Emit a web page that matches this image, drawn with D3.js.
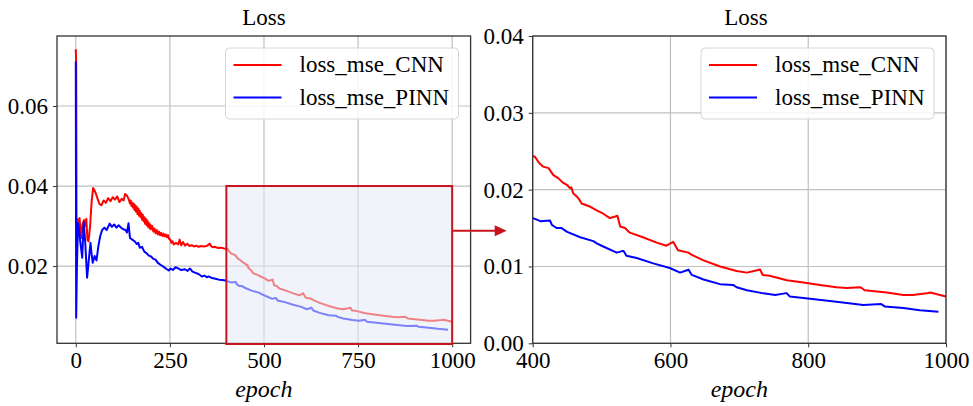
<!DOCTYPE html>
<html>
<head>
<meta charset="utf-8">
<script src="https://cdn.jsdelivr.net/npm/d3@7/dist/d3.min.js"></script>
<style>
	body{margin:0;background:#fff;}
	text{font-family:"Liberation Serif","Times New Roman",serif;fill:#000;}
</style>
</head>
<body>
<div id="chart"></div>
<script>

// values
var epochCNN = [0,1,2,4,7,10,14,18,22,25,28,31,34,38,42,46,49,53,58,63,68,74,80,86,92,98,104,110,116,122,127,131,136,
	141,144,146,148,150,152,154,156,158,160,162,164,166,168,170,172,174,176,178,180,182,184,186,188,190,192,194,196,198,200,203,206,209,212,215,218,221,224,227,230,233,236,239,242,245,248,251,254,257,260,
	266,272,276,280,285,290,296,302,308,314,320,326,332,340,348,356,360,364,370,378,386,394,400,
	403,410,415,423,430,437,444,450,454,456,459,464,467,471,483,495,502,512,520,523,527,534,541,560,580,594,600,604,611,626,631,648,672,696,711,726,730,734,744,769,793,817,841,856,876,882,914,938,952,972,977,1000];
var lossCNN = [0.0742,0.0705,0.0290,0.0318,0.0300,0.0320,0.0270,0.0305,0.0315,0.0300,0.0318,0.0265,0.0262,0.0300,0.0360,0.0395,0.0390,0.0382,0.0368,0.0355,0.0352,0.0364,0.0358,0.0370,0.0362,0.0372,0.0366,0.0374,0.0360,0.0368,0.0364,0.0380,0.0376,
	0.0366,0.0356,0.0364,0.0350,0.0358,0.0346,0.0356,0.0340,0.0352,0.0336,0.0348,0.0330,0.0344,0.0326,0.0338,0.0322,0.0332,0.0316,0.0328,0.0312,0.0322,0.0306,0.0318,0.0302,0.0314,0.0298,0.0308,0.0294,0.0304,0.0292,0.0300,0.0286,0.0294,0.0282,0.0290,0.0279,0.0286,0.0277,0.0283,0.0275,0.0281,0.0274,0.0279,0.0272,0.0277,0.0268,0.0266,0.0258,0.0262,0.0254,
	0.0258,0.0254,0.0266,0.0252,0.0260,0.0251,0.0256,0.0250,0.0252,0.0249,0.0251,0.0248,0.0250,0.0249,0.0250,0.0256,0.0249,0.0247,0.0248,0.0245,0.0246,0.0244,0.0243,
	0.0243,0.0234,0.0230,0.0228,0.0219,0.0215,0.0209,0.0206,0.0202,0.0203,0.0195,0.0191,0.0188,0.0182,0.0178,0.0172,0.0169,0.0163,0.0165,0.0166,0.0152,0.0150,0.0144,0.0138,0.0131,0.0127,0.0130,0.0132,0.0121,0.0118,0.0115,0.0108,0.0100,0.0094,0.0092,0.0095,0.0096,0.0089,0.0088,0.0082,0.0079,0.0076,0.0073,0.0072,0.0073,0.0069,0.0066,0.0063,0.0063,0.0065,0.0066,0.0061];

var epochPINN = [0,1,3,6,9,12,17,21,25,30,34,39,42,45,50,55,60,65,70,76,82,90,96,102,108,114,120,126,132,136,140,144,150,156,162,166,170,176,182,188,194,200,206,212,218,224,230,236,242,247,252,258,265,272,280,290,297,303,310,318,326,335,342,348,353,362,371,380,390,400,
	406,411,425,428,435,442,450,469,488,493,500,522,530,532,536,551,575,599,614,624,626,631,648,672,691,696,711,735,752,766,769,773,793,841,880,906,911,938,962,989];
var lossPINN = [0.0711,0.0071,0.0200,0.0307,0.0290,0.0260,0.0221,0.0310,0.0260,0.0171,0.0210,0.0258,0.0230,0.0208,0.0225,0.0214,0.0250,0.0275,0.0290,0.0296,0.0290,0.0306,0.0298,0.0304,0.0296,0.0302,0.0296,0.0292,0.0290,0.0284,0.0307,0.0270,0.0266,0.0262,0.0255,0.0258,0.0246,0.0248,0.0236,0.0232,0.0226,0.0224,0.0218,0.0216,0.0208,0.0204,0.0200,0.0196,0.0192,0.0189,0.0194,0.0190,0.0197,0.0194,0.0190,0.0192,0.0188,0.0194,0.0186,0.0183,0.0180,0.0174,0.0176,0.0172,0.0174,0.0170,0.0168,0.0166,0.0165,0.0163,
	0.0161,0.0159,0.0160,0.0154,0.0150,0.0150,0.0145,0.0138,0.0133,0.0130,0.0127,0.0118,0.0120,0.0120,0.0114,0.0111,0.0104,0.0098,0.0092,0.0095,0.0096,0.0089,0.0083,0.0077,0.0076,0.0073,0.0069,0.0065,0.0063,0.0065,0.0065,0.0061,0.0059,0.0054,0.0050,0.0051,0.0048,0.0046,0.0043,0.0041];

var seriesNames = ["loss_mse_CNN", "loss_mse_PINN"];
var seriesColors = ["#ff0000", "#0000ff"];

var leftXTicks = [0, 250, 500, 750, 1000];
var leftYTicks = [0.02, 0.04, 0.06];
var rightXTicks = [400, 600, 800, 1000];
var rightYTicks = [0.00, 0.01, 0.02, 0.03, 0.04];

var zoomEpochs = [400, 1000];
var zoomLoss = [0, 0.04];
var arrowLoss = 0.0288;

var W = 973, H = 406;
var FONT = 23;
var svg = d3.select("#chart").append("svg").attr("width", W).attr("height", H);

var cnn = epochCNN.map(function(e, i){ return [e, lossCNN[i]]; });
var pinn = epochPINN.map(function(e, i){ return [e, lossPINN[i]]; });

function panel(opt){
	var x = d3.scaleLinear().domain(opt.xDomain).range([opt.left, opt.right]);
	var y = d3.scaleLinear().domain(opt.yDomain).range([opt.bottom, opt.top]);
	var g = svg.append("g");

	// grid
	g.append("g").selectAll("line").data(opt.xTicks).join("line")
		.attr("x1", x).attr("x2", x).attr("y1", opt.top).attr("y2", opt.bottom)
		.attr("stroke", "#c0c0c0").attr("stroke-width", 1.2);
	g.append("g").selectAll("line").data(opt.yTicks).join("line")
		.attr("y1", y).attr("y2", y).attr("x1", opt.left).attr("x2", opt.right)
		.attr("stroke", "#c0c0c0").attr("stroke-width", 1.2);

	var clipId = "clip" + opt.id;
	svg.append("clipPath").attr("id", clipId).append("rect")
		.attr("x", opt.left).attr("y", opt.top)
		.attr("width", opt.right - opt.left).attr("height", opt.bottom - opt.top);

	var line = d3.line().x(function(d){ return x(d[0]); }).y(function(d){ return y(d[1]); });
	var lines = g.append("g").attr("clip-path", "url(#" + clipId + ")");
	[cnn, pinn].forEach(function(s, i){
		lines.append("path").datum(s).attr("d", line)
			.attr("fill", "none").attr("stroke", seriesColors[i])
			.attr("stroke-width", 2).attr("stroke-linejoin", "round");
	});

	// axes
	var fmt = d3.format(".2f");
	var xa = g.append("g").attr("transform", "translate(0," + opt.bottom + ")")
		.call(d3.axisBottom(x).tickValues(opt.xTicks).tickSize(4).tickPadding(4).tickFormat(d3.format("d")));
	var ya = g.append("g").attr("transform", "translate(" + opt.left + ",0)")
		.call(d3.axisLeft(y).tickValues(opt.yTicks).tickSize(4).tickPadding(5).tickFormat(fmt));
	[xa, ya].forEach(function(a){
		a.select(".domain").remove();
		a.selectAll("line").attr("stroke", "#333");
		a.selectAll("text").attr("font-family", null).attr("font-size", FONT);
	});

	g.append("rect").attr("x", opt.left).attr("y", opt.top)
		.attr("width", opt.right - opt.left).attr("height", opt.bottom - opt.top)
		.attr("fill", "none").attr("stroke", "#333").attr("stroke-width", 1.3);

	g.append("text").attr("x", opt.titleX).attr("y", 25)
		.attr("text-anchor", "middle").attr("font-size", FONT).text("Loss");
	g.append("text").attr("x", (opt.left + opt.right) / 2).attr("y", 397)
		.attr("text-anchor", "middle").attr("font-size", FONT + 1)
		.attr("font-style", "italic").text("epoch");

	// legend
	var lg = g.append("g").attr("transform", "translate(" + opt.legendX + ",48)");
	lg.append("rect").attr("width", 233).attr("height", 71).attr("rx", 4)
		.attr("fill", "#fff").attr("fill-opacity", 0.85).attr("stroke", "#d6d6d6");
	seriesNames.forEach(function(name, i){
		var yy = 17 + i * 32.5;
		lg.append("line").attr("x1", 8).attr("x2", 56).attr("y1", yy).attr("y2", yy)
			.attr("stroke", seriesColors[i]).attr("stroke-width", 2);
		lg.append("text").attr("x", 74).attr("y", yy + 7).attr("font-size", FONT).text(name);
	});

	return {x: x, y: y, g: g};
}

var left = panel({id: "L", left: 57, right: 470.6, top: 36, bottom: 343.3,
	xDomain: [-49.95, 1048.95], yDomain: [0.00069, 0.0775],
	xTicks: leftXTicks, yTicks: leftYTicks, titleX: 264, legendX: 225.5});

var right = panel({id: "R", left: 532.7, right: 946, top: 36, bottom: 343.3,
	xDomain: [400, 1000], yDomain: [0, 0.04],
	xTicks: rightXTicks, yTicks: rightYTicks, titleX: 746, legendX: 701});

// zoom box on the left panel, drawn over the lines
var bx0 = left.x(zoomEpochs[0]), bx1 = left.x(zoomEpochs[1]);
var by0 = left.y(zoomLoss[1]), by1 = Math.min(left.y(zoomLoss[0]), 344);
var boxColor = "#c8141e";
svg.append("rect").attr("x", bx0).attr("y", by0)
	.attr("width", bx1 - bx0).attr("height", by1 - by0)
	.attr("fill", "rgb(227,235,246)").attr("fill-opacity", 0.55)
	.attr("stroke", boxColor).attr("stroke-width", 2);

// arrow to the right panel
var ay = left.y(arrowLoss);
var tipX = right.x(zoomEpochs[0]) - 26;
svg.append("line").attr("x1", bx1).attr("x2", tipX - 11).attr("y1", ay).attr("y2", ay)
	.attr("stroke", boxColor).attr("stroke-width", 2);
svg.append("path")
	.attr("d", "M" + (tipX - 12) + "," + (ay - 5.5) + "L" + tipX + "," + ay + "L" + (tipX - 12) + "," + (ay + 5.5) + "Z")
	.attr("fill", boxColor);

</script>
</body>
</html>
